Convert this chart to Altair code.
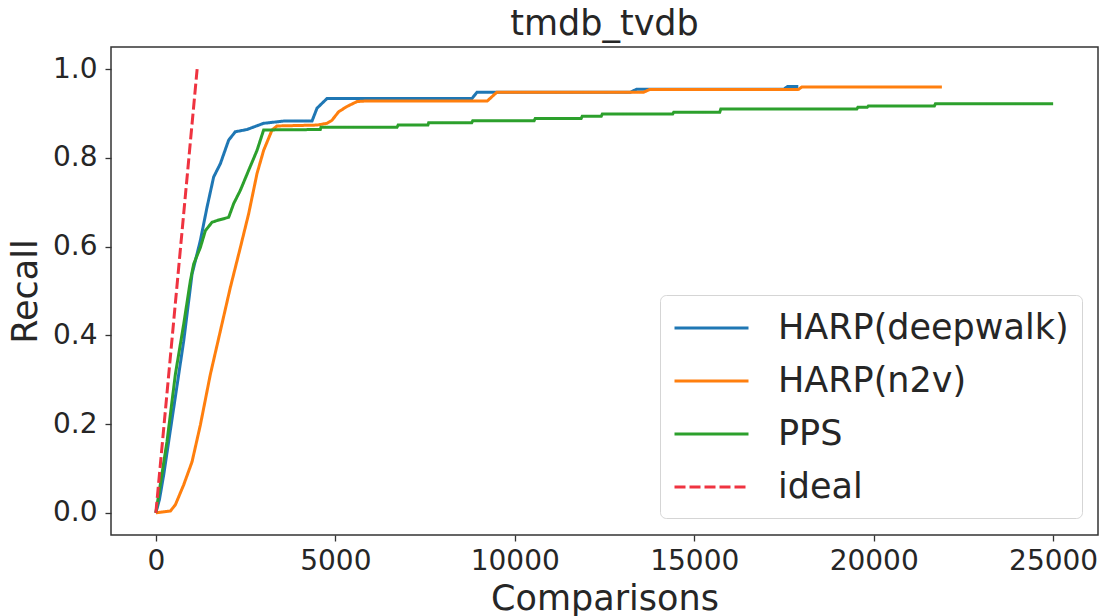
import altair as alt
import pandas as pd

series_names = ["HARP(deepwalk)", "HARP(n2v)", "PPS", "ideal"]
series_colors = ["#1f77b4", "#ff7f0e", "#2ca02c", "#ef3340"]
series_dashes = [[1, 0], [1, 0], [1, 0], [11, 4]]

x_ticks = [0, 5000, 10000, 15000, 20000, 25000]
y_ticks = [0.0, 0.2, 0.4, 0.6, 0.8, 1.0]

deepwalk_x = [0, 100, 217, 496, 775, 1008, 1240, 1426, 1610, 1797, 2028, 2214, 2540, 3003,
              3560, 4350, 4490, 4769, 8808, 8947, 13220, 13400, 17500, 17600, 17900]
deepwalk_y = [0, 0.03, 0.085, 0.236, 0.387, 0.538, 0.614, 0.689, 0.757, 0.787, 0.840, 0.859,
              0.864, 0.878, 0.883, 0.883, 0.912, 0.934, 0.934, 0.948, 0.948, 0.955, 0.955,
              0.961, 0.961]

n2v_x = [0, 404, 543, 775, 1008, 1240, 1518, 1797, 2075, 2354, 2585, 2819, 3003, 3237, 3376,
         4490, 4769, 4908, 5092, 5326, 5604, 5800, 9230, 9500, 13590, 13750, 17900, 18000, 21900]
n2v_y = [0, 0.004, 0.018, 0.063, 0.115, 0.198, 0.312, 0.410, 0.508, 0.598, 0.674, 0.765, 0.817,
         0.863, 0.872, 0.874, 0.878, 0.885, 0.904, 0.916, 0.927, 0.928, 0.928, 0.948, 0.948,
         0.954, 0.954, 0.960, 0.960]

pps_x = [0, 311, 543, 775, 961, 1054, 1240, 1379, 1565, 1750, 2028, 2168, 2354, 2585, 2819,
         3003, 4582, 4600, 6718, 6750, 7580, 7600, 8800, 8830, 10540, 10570, 11850, 11880,
         12410, 12440, 14400, 14430, 15710, 15740, 19530, 19560, 19820, 19850, 21690, 21720,
         25000]
pps_y = [0, 0.161, 0.312, 0.425, 0.523, 0.561, 0.598, 0.636, 0.655, 0.660, 0.666, 0.697, 0.727,
         0.772, 0.817, 0.863, 0.864, 0.869, 0.869, 0.874, 0.874, 0.879, 0.879, 0.884, 0.884,
         0.889, 0.889, 0.894, 0.894, 0.899, 0.899, 0.903, 0.903, 0.910, 0.910, 0.914, 0.914,
         0.917, 0.917, 0.922, 0.922]

ideal_x = [0, 1150]
ideal_y = [0.0, 1.0]

rows = []
for name, xs, ys in [("HARP(deepwalk)", deepwalk_x, deepwalk_y),
                     ("HARP(n2v)", n2v_x, n2v_y),
                     ("PPS", pps_x, pps_y),
                     ("ideal", ideal_x, ideal_y)]:
    for i, (xv, yv) in enumerate(zip(xs, ys)):
        rows.append({"series": name, "x": xv, "y": yv, "i": i})
df = pd.DataFrame(rows)

FONT = "DejaVu Sans"
TXT = "#262626"

chart = alt.Chart(df).mark_line(strokeWidth=3, clip=True).encode(
    x=alt.X("x:Q",
            scale=alt.Scale(domain=[-1250, 26250], nice=False, zero=False),
            axis=alt.Axis(values=x_ticks, format="d", title="Comparisons",
                          labelPadding=6, titlePadding=6)),
    y=alt.Y("y:Q",
            scale=alt.Scale(domain=[-0.05, 1.05], nice=False, zero=False),
            axis=alt.Axis(values=y_ticks, format=".1f", title="Recall",
                          labelPadding=8, titlePadding=9)),
    color=alt.Color("series:N",
                    scale=alt.Scale(domain=series_names, range=series_colors),
                    legend=alt.Legend(title=None)),
    strokeDash=alt.StrokeDash("series:N",
                              scale=alt.Scale(domain=series_names, range=series_dashes),
                              legend=alt.Legend(title=None)),
    order="i:Q",
).properties(
    width=987,
    height=488,
    title=alt.TitleParams("tmdb_tvdb", fontSize=35, font=FONT, fontWeight="normal",
                          color=TXT, anchor="middle", offset=5),
    padding={"left": 111, "top": 47, "right": 7, "bottom": 81},
    autosize=alt.AutoSizeParams(type="none"),
).configure_view(
    stroke="#333333", strokeWidth=1.5
).configure_axis(
    grid=False, domain=False, ticks=True, tickSize=6, tickWidth=1.3, tickColor="#333333",
    labelFont=FONT, labelFontSize=28, labelColor=TXT,
    titleFont=FONT, titleFontSize=35, titleFontWeight="normal", titleColor=TXT,
).configure_legend(
    orient="none", legendX=549, legendY=248, padding=13, cornerRadius=6,
    strokeColor="#d5d5d5", fillColor="white",
    symbolType="M-1,0L3,0", symbolSize=1369, symbolStrokeWidth=3,
    labelFont=FONT, labelFontSize=35, labelColor=TXT, labelOffset=65,
    labelLimit=500, rowPadding=15,
)

chart.save("out.html", embed_options={"renderer": "svg", "actions": False})
